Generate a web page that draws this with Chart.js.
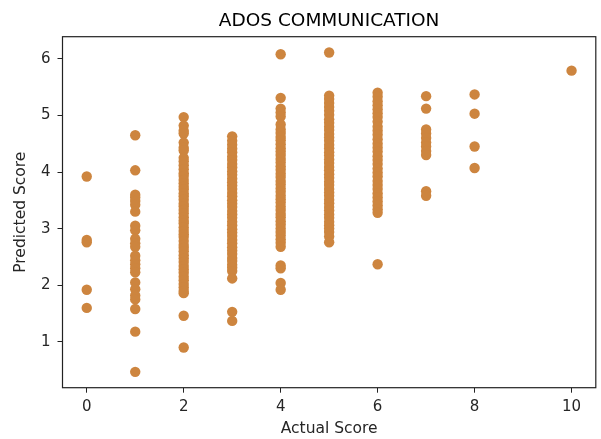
<!DOCTYPE html>
<html>
<head>
<meta charset="utf-8">
<script src="https://cdn.jsdelivr.net/npm/chart.js@4/dist/chart.umd.min.js"></script>
<style>
  body { margin: 0; background: #fff; }
</style>
</head>
<body>
<canvas id="scoreChart" width="601" height="439"></canvas>
<script>

// Actual score (x) and predicted scores
const actualScores = [0, 1, 2, 3, 4, 5, 6, 7, 8, 10];

const predicted0 = [3.92, 2.80, 2.76, 1.92, 1.60];
const predicted1 = [4.65, 4.03, 3.60, 3.55, 3.49, 3.42, 3.30, 3.05, 2.97, 2.82, 2.74, 2.68,
    2.52, 2.44, 2.37, 2.30, 2.23, 2.05, 1.93, 1.82, 1.75, 1.58, 1.18, 0.47];
const predicted2 = [4.97, 4.82, 4.73, 4.68, 4.52, 4.43, 4.38, 4.25, 4.19, 4.12, 4.05, 3.98,
    3.93, 3.86, 3.80, 3.74, 3.69, 3.62, 3.57, 3.51, 3.44, 3.39, 3.33, 3.27, 3.20, 3.14,
    3.09, 3.02, 2.96, 2.90, 2.85, 2.78, 2.71, 2.66, 2.60, 2.53, 2.47, 2.41, 2.34, 2.28,
    2.22, 2.15, 2.09, 2.02, 1.96, 1.90, 1.86, 1.46, 0.90];
const predicted3 = [4.63, 4.55, 4.48, 4.41, 4.35, 4.27, 4.21, 4.14, 4.08, 4.01, 3.95, 3.88,
    3.82, 3.76, 3.70, 3.63, 3.57, 3.50, 3.44, 3.38, 3.31, 3.25, 3.19, 3.12, 3.06, 2.99,
    2.93, 2.87, 2.80, 2.74, 2.67, 2.61, 2.55, 2.48, 2.43, 2.36, 2.31, 2.25, 2.12, 1.53, 1.37];
const predicted4 = [6.08, 5.31, 5.12, 5.05, 4.98, 4.84, 4.75, 4.69, 4.62, 4.56, 4.49, 4.42,
    4.36, 4.30, 4.23, 4.17, 4.10, 4.04, 3.97, 3.91, 3.84, 3.78, 3.71, 3.65, 3.58, 3.52,
    3.46, 3.39, 3.33, 3.26, 3.20, 3.13, 3.07, 3.00, 2.94, 2.88, 2.81, 2.75, 2.68, 2.35,
    2.30, 2.04, 1.92];
const predicted5 = [6.11, 5.35, 5.29, 5.22, 5.15, 5.08, 5.01, 4.93, 4.87, 4.80, 4.74, 4.67,
    4.61, 4.55, 4.48, 4.42, 4.35, 4.29, 4.22, 4.16, 4.09, 4.03, 3.96, 3.90, 3.83, 3.77,
    3.70, 3.64, 3.58, 3.51, 3.45, 3.38, 3.32, 3.25, 3.19, 3.12, 3.06, 3.00, 2.94, 2.86, 2.76];
const predicted6 = [5.40, 5.33, 5.25, 5.18, 5.11, 5.04, 4.97, 4.89, 4.80, 4.73, 4.66, 4.58,
    4.50, 4.43, 4.36, 4.28, 4.21, 4.14, 4.06, 3.99, 3.92, 3.84, 3.77, 3.70, 3.62, 3.55,
    3.48, 3.41, 3.34, 3.28, 2.37];
const predicted7 = [5.34, 5.12, 4.75, 4.68, 4.60, 4.52, 4.45, 4.37, 4.30, 3.66, 3.58];
const predicted8 = [5.37, 5.03, 4.45, 4.07];
const predicted10 = [5.79];

const predictedByScore = [predicted0, predicted1, predicted2, predicted3, predicted4,
    predicted5, predicted6, predicted7, predicted8, predicted10];

const xTicks = [0, 2, 4, 6, 8, 10];
const yTicks = [1, 2, 3, 4, 5, 6];

const puntos = [];
actualScores.forEach((a, i) => {
    predictedByScore[i].forEach(p => puntos.push({ x: a, y: p }));
});

const fuente = "'DejaVu Sans', sans-serif";
const negro = "#262626";

// caja completa alrededor del area del grafico
const marco = {
    id: "marco",
    afterDatasetsDraw(chart) {
        const { ctx, chartArea: a } = chart;
        ctx.save();
        ctx.strokeStyle = "#222";
        ctx.lineWidth = 1.2;
        ctx.strokeRect(a.left, a.top, a.right - a.left, a.bottom - a.top);
        ctx.restore();
    }
};

new Chart(document.getElementById("scoreChart"), {
    type: "scatter",
    data: {
        datasets: [{
            data: puntos,
            backgroundColor: "#CD853F",
            borderWidth: 0,
            pointRadius: 5.2,
            pointHoverRadius: 5.2
        }]
    },
    options: {
        responsive: false,
        animation: false,
        events: [],
        layout: { padding: { left: 0, right: 4, top: 0, bottom: 0 } },
        plugins: {
            legend: { display: false },
            tooltip: { enabled: false }
        },
        scales: {
            // eje superior solo para el titulo, centrado sobre el area del grafico
            top: {
                type: "linear",
                position: "top",
                min: -0.5,
                max: 10.5,
                afterFit: s => { s.height = 36.7; },
                border: { display: false },
                grid: { display: false },
                ticks: { display: false },
                title: {
                    display: true,
                    text: "ADOS COMMUNICATION",
                    color: "#000",
                    font: { family: fuente, size: 18.5, weight: "normal" },
                    padding: { top: 10, bottom: 0 }
                }
            },
            x: {
                type: "linear",
                min: -0.5,
                max: 10.5,
                afterBuildTicks: s => { s.ticks = xTicks.map(v => ({ value: v })); },
                afterFit: s => { s.height = 51.3; },
                border: { display: false },
                grid: { drawOnChartArea: false, drawTicks: true, tickLength: 5, color: "#222" },
                ticks: { color: negro, padding: 5, font: { family: fuente, size: 15 } },
                title: {
                    display: true,
                    text: "Actual Score",
                    color: negro,
                    font: { family: fuente, size: 15.5 },
                    padding: { top: 0, bottom: 1 }
                }
            },
            y: {
                type: "linear",
                min: 0.19,
                max: 6.39,
                afterBuildTicks: s => { s.ticks = yTicks.map(v => ({ value: v })); },
                afterFit: s => { s.width = 62.5; },
                border: { display: false },
                grid: { drawOnChartArea: false, drawTicks: true, tickLength: 5, color: "#222" },
                ticks: { color: negro, padding: 7, font: { family: fuente, size: 15 } },
                title: {
                    display: true,
                    text: "Predicted Score",
                    color: negro,
                    font: { family: fuente, size: 15.5 },
                    padding: { top: 12, bottom: 0 }
                }
            }
        }
    },
    plugins: [marco]
});

</script>
</body>
</html>
